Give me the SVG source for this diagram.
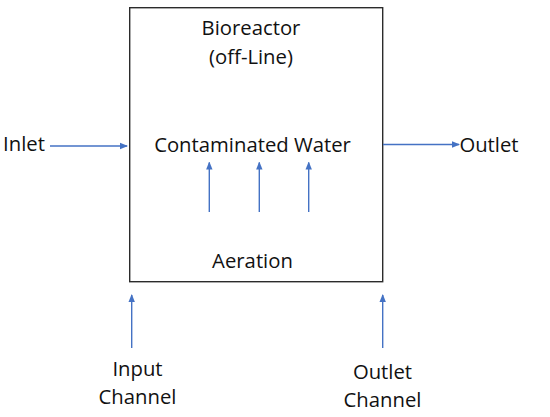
<svg xmlns="http://www.w3.org/2000/svg" width="550" height="417" viewBox="0 0 550 417">
<style>
text{font-family:"Open Sans","Liberation Sans",sans-serif;font-size:20.3px;fill:#111;text-anchor:middle}
.c{stroke:#4472C4;stroke-width:1.4;fill:none;marker-end:url(#ah)}
.box{fill:#fff;stroke:#2b2b2b;stroke-width:1.4}
</style>
<defs>
<marker id="ah" viewBox="0 0 8 8" refX="7" refY="4" markerWidth="8" markerHeight="8" markerUnits="userSpaceOnUse" orient="auto">
<path d="M0,0.8 L8,4 L0,7.2 Z" fill="#4472C4"/>
</marker>
</defs>
<rect width="550" height="417" fill="#fff"/>
<g id="bioreactor">
<rect class="box" x="129.7" y="7.7" width="253" height="274"/>
<text x="251" y="35">Bioreactor</text>
<text x="251" y="64">(off-Line)</text>
<text x="252.5" y="152">Contaminated Water</text>
<text x="252.5" y="268">Aeration</text>
</g>
<g id="inlet"><text x="24" y="151">Inlet</text></g>
<g id="outlet"><text x="489" y="152">Outlet</text></g>
<g id="input-channel"><text x="137.5" y="375.5">Input</text><text x="137.5" y="404">Channel</text></g>
<g id="outlet-channel"><text x="382.5" y="378.5">Outlet</text><text x="382.5" y="407">Channel</text></g>
<g id="connectors">
<line class="c" x1="50" y1="146" x2="127" y2="146"/>
<line class="c" x1="383" y1="144.5" x2="459" y2="144.5"/>
<line class="c" x1="209.3" y1="212" x2="209.3" y2="162.5"/>
<line class="c" x1="259.3" y1="212" x2="259.3" y2="162.5"/>
<line class="c" x1="308.7" y1="212" x2="308.7" y2="162.5"/>
<line class="c" x1="131.7" y1="348" x2="131.7" y2="295"/>
<line class="c" x1="382.7" y1="348" x2="382.7" y2="295"/>
</g>
</svg>
